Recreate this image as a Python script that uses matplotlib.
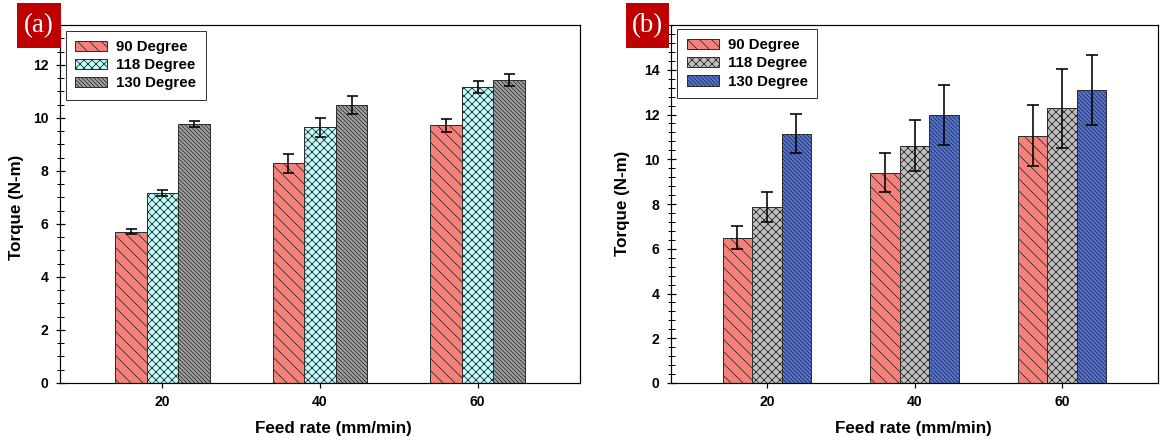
import matplotlib
matplotlib.use("Agg")
import matplotlib.pyplot as plt
import numpy as np
from matplotlib.patches import Rectangle
from matplotlib.ticker import MultipleLocator, FixedLocator

# ---- data ---------------------------------------------------------------
feed_rates = ["20", "40", "60"]
series_labels = ["90 Degree", "118 Degree", "130 Degree"]

torque_a_90 = [5.71, 8.29, 9.72]
torque_a_118 = [7.16, 9.65, 11.16]
torque_a_130 = [9.76, 10.48, 11.43]
err_a_90 = [0.11, 0.36, 0.24]
err_a_118 = [0.11, 0.36, 0.24]
err_a_130 = [0.12, 0.35, 0.24]

torque_b_90 = [6.49, 9.40, 11.06]
torque_b_118 = [7.86, 10.60, 12.27]
torque_b_130 = [11.15, 11.99, 13.08]
err_b_90 = [0.52, 0.87, 1.35]
err_b_118 = [0.66, 1.14, 1.75]
err_b_130 = [0.89, 1.35, 1.57]

# ---- figure -------------------------------------------------------------
W, H, DPI = 1164, 444, 72
plt.rcParams["font.family"] = ["Liberation Sans", "DejaVu Sans"]
plt.rcParams["font.weight"] = "bold"
plt.rcParams["hatch.linewidth"] = 0.8

fig = plt.figure(figsize=(W / DPI, H / DPI), dpi=DPI)
fig.patch.set_facecolor("white")


def px_axes(x0, y0, x1, y1):
    return fig.add_axes([x0 / W, 1 - y1 / H, (x1 - x0) / W, (y1 - y0) / H])


def draw_panel(ax, values, errors, colors, hatches, ymax, yticks, minor_step,
               capsize, legend_anchor):
    x = np.arange(len(feed_rates))
    width = 0.2
    handles = []
    for i, (vals, errs) in enumerate(zip(values, errors)):
        pos = x + (i - 1) * width
        bars = ax.bar(pos, vals, width, color=colors[i], edgecolor="#2e2e2e",
                      linewidth=1.0, hatch=hatches[i], label=series_labels[i],
                      zorder=2)
        ax.errorbar(pos, vals, yerr=errs, fmt="none", ecolor="black",
                    elinewidth=1.6, capsize=capsize, capthick=1.6, zorder=3)
        handles.append(bars)

    ax.set_xlim(-0.65, 2.65)
    ax.set_ylim(0, ymax)
    ax.set_xticks(x)
    ax.set_xticklabels(feed_rates)
    ax.yaxis.set_major_locator(FixedLocator(yticks))
    ax.yaxis.set_minor_locator(MultipleLocator(minor_step))
    ax.tick_params(axis="y", which="major", direction="inout", length=9,
                   width=1.2, labelsize=14, pad=7)
    ax.tick_params(axis="y", which="minor", direction="inout", length=7,
                   width=1.0)
    ax.tick_params(axis="x", which="major", direction="out", length=5,
                   width=1.2, labelsize=14, pad=7)
    ax.tick_params(axis="x", which="minor", bottom=False)
    for sp in ax.spines.values():
        sp.set_linewidth(1.2)
        sp.set_color("black")

    leg = ax.legend(handles=handles, loc="upper left",
                    bbox_to_anchor=legend_anchor, borderaxespad=0,
                    fontsize=15, frameon=True, fancybox=False,
                    edgecolor="#333333", framealpha=1, handlelength=2.15,
                    handleheight=0.68, handletextpad=0.6, labelspacing=0.28,
                    borderpad=0.62)
    leg.get_frame().set_linewidth(1.0)


# panel (a)
ax_a = px_axes(60, 25, 580, 383)
draw_panel(ax_a,
           [torque_a_90, torque_a_118, torque_a_130],
           [err_a_90, err_a_118, err_a_130],
           ["#F88079", "#BDFCFC", "#A0A0A0"],
           ["\\\\", "xxx", "\\\\\\\\\\\\"],
           13.5, [0, 2, 4, 6, 8, 10, 12], 0.5, 5.5,
           ((65.7 - 60) / 520, 1 - (30.7 - 25) / 358))

# panel (b)
ax_b = px_axes(671, 25, 1158, 383)
draw_panel(ax_b,
           [torque_b_90, torque_b_118, torque_b_130],
           [err_b_90, err_b_118, err_b_130],
           ["#F88079", "#C0C0C0", "#4C74F2"],
           ["\\\\", "xxx", "\\\\\\\\\\\\"],
           16, [0, 2, 4, 6, 8, 10, 12, 14], 0.4, 6,
           ((677.3 - 671) / 487, 1 - (29 - 25) / 358))

# axis titles
label_kw = dict(fontsize=17, fontweight="bold", ha="center", va="center")
fig.text(16.5 / W, 1 - 207 / H, "Torque (N-m)", rotation=90, **label_kw)
fig.text(333 / W, 1 - 428 / H, "Feed rate (mm/min)", **label_kw)
fig.text(623 / W, 1 - 203 / H, "Torque (N-m)", rotation=90, **label_kw)
fig.text(913 / W, 1 - 428 / H, "Feed rate (mm/min)", **label_kw)

# panel tags
for (x0, x1), tag in [((17, 61), "(a)"), ((625.7, 669), "(b)")]:
    y0, y1 = 3, 48
    fig.patches.append(Rectangle((x0 / W, 1 - y1 / H), (x1 - x0) / W,
                                 (y1 - y0) / H, transform=fig.transFigure,
                                 facecolor="#BE0000", edgecolor="none",
                                 zorder=5))
    fig.text((x0 + x1) / 2 / W, 1 - (y0 + y1) / 2 / H, tag, color="white",
             fontsize=27, fontweight="normal",
             family=["Liberation Serif", "DejaVu Serif"],
             ha="center", va="center", zorder=6)

fig.savefig("out.png", dpi=DPI)
